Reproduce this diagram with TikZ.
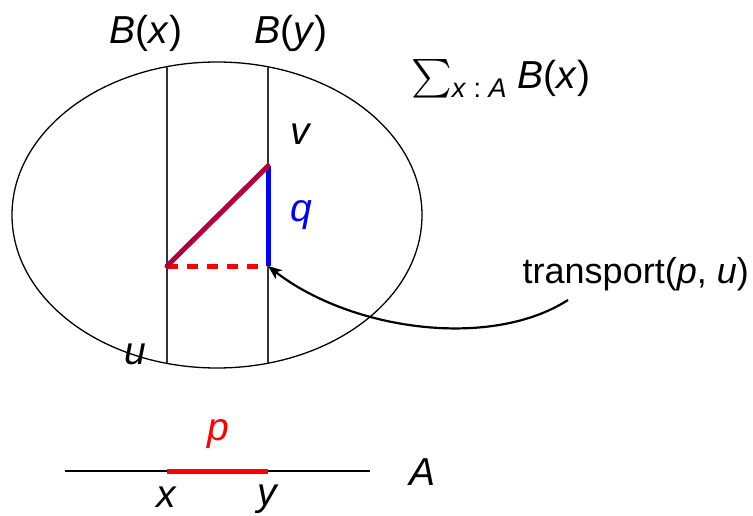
\documentclass[tikz,border=0pt]{standalone}
\usepackage{amsmath}
\usepackage{graphicx}
\usepackage{fontspec}
\setmainfont{Liberation Sans}
\usetikzlibrary{arrows.meta}
\definecolor{pathpurple}{RGB}{180,0,60}
\tikzset{
  lbl/.style={inner sep=0pt, anchor=base, font=\fontsize{39}{42}\selectfont},
  thin line/.style={line width=1.3pt, black},
  fibre/.style={line width=1.3pt, black!80},
  heavy/.style={line width=5pt},
}
\begin{document}
\begin{tikzpicture}[x=1pt,y=-1pt]
\useasboundingbox (0,0) rectangle (753,516);
% total space
\draw[thin line] (217,215) ellipse [x radius=205pt, y radius=153pt];
% fibres
\coordinate (bxt) at (167,67);
\coordinate (bxb) at (167,363);
\coordinate (byt) at (268,67);
\coordinate (byb) at (268,363);
\draw[fibre] (bxt) -- (bxb);
\draw[fibre] (byt) -- (byb);
% points
\coordinate (u) at (167,266);
\coordinate (v) at (268,166);
\coordinate (tu) at (268,266);
\draw[heavy, red, dash pattern=on 11pt off 9pt] (u) -- (tu);
\draw[heavy, blue] (v) -- (tu);
\draw[heavy, pathpurple, line cap=round] (u) -- (v);
% labels
\node[lbl] (lBx) at (146,44) {\textit{B}(\textit{x})};
\node[lbl] (lBy) at (291,44) {\textit{B}(\textit{y})};
\node[lbl] (lv) at (301,145) {\textit{v}};
\node[lbl, blue] (lq) at (301,222) {\textit{q}};
\node[lbl] (lu) at (135,364) {\textit{u}};
\node[lbl, anchor=base west] (lsum) at (411,89) {\raisebox{1pt}{\scalebox{1.55}{$\sum$}}\raisebox{-9pt}{\fontsize{27}{29}\selectfont\textit{x}\;:\;\textit{A}}\;\textit{B}(\textit{x})};
\node[lbl, anchor=base east, font=\fontsize{36}{40}\selectfont] (ltr) at (749,283) {transport(\textit{p}, \textit{u})};
\coordinate (arrs) at (568,300);
\draw[line width=2.2pt, -{Stealth[length=14pt,width=11pt,inset=4pt]}] (arrs) .. controls (490,350) and (350,330) .. (tu);
% base space
\coordinate (al) at (65,471);
\coordinate (ar) at (370,471);
\coordinate (x) at (167,471);
\coordinate (y) at (268,471);
\draw[thin line] (al) -- (ar);
\draw[heavy, red] (x) -- (y);
\node[lbl, red] (lp) at (218,440) {\textit{p}};
\node[lbl] (lx) at (167,507) {\textit{x}};
\node[lbl] (ly) at (268,505) {\textit{y}};
\node[lbl] (lA) at (423,485) {\textit{A}};
\end{tikzpicture}
\end{document}
